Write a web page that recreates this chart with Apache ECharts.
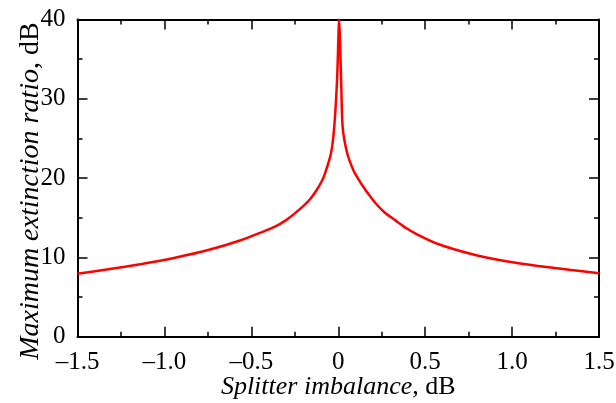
<!DOCTYPE html>
<html>
<head>
<meta charset="utf-8">
<script src="https://cdn.jsdelivr.net/npm/echarts@6/dist/echarts.min.js"></script>
<style>html,body{margin:0;padding:0;background:#fff}#c{width:616px;height:403px}</style>
</head>
<body>
<div id="c"></div>
<script>
var imbalance = [-1.5, -1.323, -1.131, -0.939, -0.748, -0.556, -0.45, -0.364, -0.3, -0.25, -0.2, -0.16, -0.124, -0.095, -0.076, -0.042, -0.023, -0.006, 0.005, 0.016, 0.025, 0.052, 0.087, 0.115, 0.144, 0.18, 0.22, 0.27, 0.327, 0.39, 0.45, 0.574, 0.766, 0.958, 1.149, 1.341, 1.5];
var extinction = [7.95, 8.5, 9.17, 9.96, 10.93, 12.2, 13.1, 13.87, 14.7, 15.55, 16.5, 17.4, 18.5, 19.6, 20.6, 23.1, 26.5, 32.8, 40.0, 32.8, 26.5, 23.1, 21.0, 19.9, 18.9, 17.8, 16.7, 15.6, 14.7, 13.7, 12.95, 11.69, 10.43, 9.55, 8.92, 8.41, 8.0];
var xTicks = {min: -1.5, max: 1.5, interval: 0.5};
var yTicks = {min: 0, max: 40, interval: 10};

var pts = imbalance.map(function (x, i) { return [x, extinction[i]]; });
var font = 'Liberation Serif';
function fmtX(v) {
  if (Math.abs(v) < 1e-9) return '0';
  return (v < 0 ? '\u2013' : '') + Math.abs(v).toFixed(1);
}
var lineStyle = {color: '#000', width: 2};
var tickStyle = {color: '#000', width: 1.5};
function xAxisDef(pos, show) {
  return {
    type: 'value', position: pos, min: xTicks.min, max: xTicks.max, interval: xTicks.interval,
    axisLine: {show: true, onZero: false, lineStyle: lineStyle},
    axisTick: {show: true, inside: true, length: 10, lineStyle: tickStyle},
    minorTick: {show: true, splitNumber: 2, length: 5, lineStyle: tickStyle},
    splitLine: {show: false},
    axisLabel: {show: show, formatter: fmtX, color: '#000', fontFamily: font, fontSize: 25, margin: 13},
    name: show ? '{i|Splitter imbalance}{n|, dB}' : '',
    nameLocation: 'middle', nameGap: 37, nameMoveOverlap: false,
    nameTextStyle: {rich: {
      i: {fontFamily: font, fontStyle: 'italic', fontSize: 26, color: '#000'},
      n: {fontFamily: font, fontSize: 26, color: '#000'}
    }}
  };
}
function yAxisDef(pos, show) {
  return {
    type: 'value', position: pos, min: yTicks.min, max: yTicks.max, interval: yTicks.interval,
    axisLine: {show: true, onZero: false, lineStyle: lineStyle},
    axisTick: {show: true, inside: true, length: 10, lineStyle: tickStyle},
    minorTick: {show: true, splitNumber: 2, length: 5, lineStyle: tickStyle},
    splitLine: {show: false},
    axisLabel: {show: show, color: '#000', fontFamily: font, fontSize: 25, margin: 12},
    name: show ? '{i|Maximum extinction ratio}{n|, dB}' : '',
    nameLocation: 'middle', nameGap: 33, nameRotate: 90, nameMoveOverlap: false,
    nameTextStyle: {padding: [0, 26, 0, 0], rich: {
      i: {fontFamily: font, fontStyle: 'italic', fontSize: 28, color: '#000'},
      n: {fontFamily: font, fontSize: 28, color: '#000'}
    }}
  };
}
var chart = echarts.init(document.getElementById('c'), null, {renderer: 'canvas'});
chart.setOption({
  animation: false,
  backgroundColor: '#fff',
  grid: {left: 77.5, right: 17, top: 19.5, bottom: 66.3, containLabel: false, outerBoundsMode: 'none'},
  xAxis: [xAxisDef('bottom', true), xAxisDef('top', false)],
  yAxis: [yAxisDef('left', true), yAxisDef('right', false)],
  series: [{
    type: 'line', data: pts, showSymbol: false, symbol: 'none',
    smooth: 0.2, clip: true,
    lineStyle: {color: '#ff0000', width: 2.5}
  }]
});
</script>
</body>
</html>
